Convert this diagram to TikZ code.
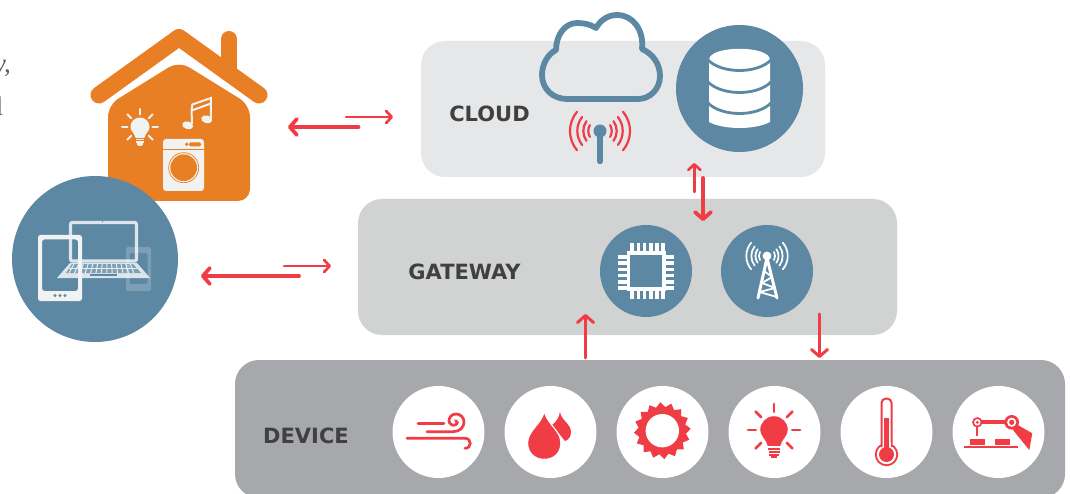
\documentclass[tikz,border=0pt]{standalone}
\usepackage{fontspec}
\setsansfont{DejaVu Sans}
\setmainfont{Liberation Serif}
\usetikzlibrary{arrows.meta,shapes.geometric}
\definecolor{arrowred}{HTML}{F03C45}
\definecolor{steel}{HTML}{5C88A3}
\definecolor{houseorange}{HTML}{E97F24}
\definecolor{paper}{HTML}{F1F2F2}
\definecolor{cloudgrey}{HTML}{E6E7E9}
\definecolor{gatewaygrey}{HTML}{D1D3D2}
\definecolor{devicegrey}{HTML}{A7A8AB}
\definecolor{lblgrey}{HTML}{404040}
\tikzset{
	panelbox/.style={rectangle,rounded corners=24pt,inner sep=0pt},
	iconbg/.style={circle,inner sep=0pt,minimum size=92pt},
	lbl/.style={font=\sffamily\bfseries\fontsize{21}{21}\selectfont,text=lblgrey},
	thickarrow/.style={arrowred,line width=3.8pt,line cap=round,-{Straight Barb[round,length=7pt,width=16pt]}},
	thinarrow/.style={arrowred,line width=2.7pt,line cap=round,-{Straight Barb[round,length=5.5pt,width=12pt]}},
	bulbicon/.pic={
		\fill (-9.5,0) arc[start angle=180,end angle=360,radius=9.5]
			.. controls (9.5,4) and (5,7) .. (4.3,11) -- (-4.3,11) .. controls (-5,7) and (-9.5,4) .. (-9.5,0) -- cycle;
		\foreach \a in {0,-45,-90,-135,180,45,135}
			\draw (\a:12.5) -- (\a:18);
		\foreach \s/\w in {12.8/4.2,15/3.8,17.2/3.2}
			\fill (-\w,\s-.7) rectangle (\w,\s+.7);
		\fill (-2,18.2) rectangle (2,19.4);
	},
	wavepair/.pic={
		\foreach \r/\h in {11.7/30,16.7/36,22.7/38,30/40}{
			\draw (-\h:\r) arc[start angle=-\h,end angle=\h,radius=\r];
			\draw (180-\h:\r) arc[start angle=180-\h,end angle=180+\h,radius=\r];
		}
	},
}
\begin{document}
\begin{tikzpicture}[x=1pt,y=-1pt]
	\useasboundingbox (0,0) rectangle (1070,494);
	% cut-off words at the left edge
	\node[anchor=base east,inner sep=0pt,text=lblgrey!85,font=\itshape\fontsize{27}{27}\selectfont] (wordw) at (11,73) {w,};
	\node[anchor=base east,inner sep=0pt,text=lblgrey!85,font=\fontsize{27}{27}\selectfont] (wordl) at (3.5,116) {l};

	% panels
	\node[panelbox,fill=cloudgrey,minimum width=404pt,minimum height=136pt] (cloudpanel) at (623,109) {};
	\node[panelbox,fill=gatewaygrey,minimum width=539pt,minimum height=136pt] (gatewaypanel) at (627.5,267) {};
	\node[panelbox,fill=devicegrey,minimum width=830pt,minimum height=138pt] (devicepanel) at (650,429) {};
	\node[lbl] (cloudlbl) at (489.5,114) {CLOUD};
	\node[lbl] (gatewaylbl) at (464.5,272) {GATEWAY};
	\node[lbl] (devicelbl) at (306,436) {DEVICE};

	% house
	\fill[houseorange,rounded corners=12pt] (108,201) -- (108,105) -- (179,61) -- (250,105) -- (250,201) -- cycle;
	\draw[houseorange,line width=16pt,line cap=round] (229,39) -- (229,72);
	\draw[houseorange,line width=17pt,line cap=round,line join=round] (99,95) -- (179,37.5) -- (259,95);
	\pic[paper,line width=2pt,line cap=round] at (140,127) {bulbicon};
	% note
	\fill[paper,rotate around={-15:(187.7,125.3)}] (187.7,125.3) ellipse[x radius=5.6,y radius=3.9];
	\fill[paper,rotate around={-15:(206.7,119.3)}] (206.7,119.3) ellipse[x radius=5.6,y radius=3.9];
	\draw[paper,line width=2pt] (192,124) .. controls (192,117) and (191,111) .. (192.3,104.5) -- (210.9,98) -- (210.9,119);
	\draw[paper,line width=2pt] (191.7,110.5) -- (210.9,103.5);
	% washer
	\fill[paper,rounded corners=3pt] (163,139) rectangle (204,191);
	\draw[houseorange,line width=.5pt] (163,149) -- (204,149);
	\fill[houseorange] (186.7,144.3) circle (1.9);
	\fill[houseorange,rounded corners=1.5pt] (189,142.3) rectangle (201,146.4);
	\draw[houseorange,line width=.7pt] (183.7,167.7) circle (15);
	\fill[houseorange] (183.7,167.7) circle (13.3);

	% devices circle
	\node[circle,fill=steel,inner sep=0pt,minimum size=166pt] (usercircle) at (95,259) {};
	\fill[white!78!steel] (70,263) -- (137,263) -- (150,278) -- (57,278) -- cycle;
	\fill[steel!80!white] (72,264) -- (133,264) -- (141,273) -- (66,273) -- cycle;
	\foreach \i in {0,...,12}
		\draw[white!85!steel,line width=1pt] ({74+\i*4.7},264) -- ({69+\i*5.4},273);
	\draw[white!85!steel,line width=1pt] (69,268.5) -- (137,268.5);
	\draw[steel,line width=2.2pt] (90,275) -- (117,275);
	\draw[white!78!steel,line width=3.2pt,rounded corners=2pt] (70.5,222.5) rectangle (136.5,261);
	\fill[steel] (102.5,221.5) circle (.7);
	\fill[white,opacity=.2,even odd rule,rounded corners=2pt] (126,247) rectangle (151,291) (129.5,253) rectangle (147.5,284);
	\fill[paper,even odd rule,rounded corners=2.5pt] (38,235) rectangle (82,301) (42,239.5) rectangle (78,291);
	\foreach \x in {55,60,65}
		\fill[steel] (\x,295.5) circle (1.7);

	% cloud with antenna
	\draw[steel,line width=5.8pt,line join=round] (567,99) -- (638,99) .. controls (650,99) and (660,89) .. (660,76)
		.. controls (660,64) and (653,54) .. (642,49) .. controls (644,30) and (633,15) .. (617,15)
		.. controls (607,15) and (600,21) .. (596,28) .. controls (590,24) and (583,23) .. (577,23)
		.. controls (565,23) and (556,35) .. (556,50) .. controls (548,54) and (542,64) .. (542,75)
		.. controls (542,89) and (553,99) .. (567,99) -- cycle;
	\pic[arrowred,line width=2.2pt,line cap=round] at (600,131) {wavepair};
	\draw[steel,line width=5.4pt,line cap=round] (600,133) -- (600,161.5);
	\fill[steel] (600,131) circle (6.5);

	% database
	\node[circle,fill=steel,inner sep=0pt,minimum size=127pt] (dbcircle) at (739.5,88.5) {};
	\fill[white] (709,60) .. controls (709,45) and (770,45) .. (770,60) -- (770,122) .. controls (755,130) and (724,130) .. (709,122) -- cycle;
	\foreach \h in {60,82,103}
		\draw[steel,line width=2.8pt] (708,\h) .. controls (722,{\h+14}) and (757,{\h+14}) .. (771,\h);

	% chip
	\node[iconbg,fill=steel] (chipcircle) at (646,271) {};
	\draw[white,line width=3.4pt] (628.2,253.2) rectangle (663.8,288.8);
	\foreach \i in {0,...,5}{
		\fill[white] ({630.4+\i*6.2},243) rectangle ({634+\i*6.2},252);
		\fill[white] ({630.4+\i*6.2},290) rectangle ({634+\i*6.2},299);
		\fill[white] (618,{255.2+\i*6.2}) rectangle (627,{258.8+\i*6.2});
		\fill[white] (665,{255.2+\i*6.2}) rectangle (674,{258.8+\i*6.2});
	}

	% tower
	\node[iconbg,fill=steel] (towercircle) at (767,271) {};
	\pic[white,scale=.69,line width=1.7pt,line cap=round] at (767,256) {wavepair};
	\fill[white] (767,256) circle (4.4);
	\draw[white,line width=3pt,line cap=round,line join=round] (758,298) -- (767,258) -- (777,298);
	\draw[white,line width=1.8pt,line join=round] (764,271) -- (772,277) -- (762,283) -- (775,288) -- (759.5,292) -- (777,297);

	% device icons
	\foreach \n/\cx in {wind/438.5,drop/550.5,sun/662.5,bulb/774.5,thermo/886.5,robot/998.5}
		\node[iconbg,fill=white] (\n circle) at (\cx,432) {};
	% wind
	\begin{scope}[arrowred,line width=2.7pt,line cap=round]
		\draw (418,423.7) -- (444,423.7);
		\draw (427,431.7) -- (453,431.7) .. controls (460,431.7) and (464,427) .. (464,422)
			.. controls (464,417) and (460,414) .. (456,414) .. controls (451,414) and (449,418) .. (449,421)
			.. controls (449,424) and (453,426) .. (455,425) .. controls (458,424) and (458,421) .. (455.5,420.5);
		\draw (407,438.3) -- (465,438.3) .. controls (472,438.3) and (472,448.3) .. (465,448.3);
	\end{scope}
	% drops
	\fill[arrowred] (560,412) .. controls (561,420) and (571,424) .. (571,432) .. controls (571,437) and (568,440) .. (565,441) -- (552,425) .. controls (556,422) and (559,418) .. (560,412) -- cycle;
	\draw[arrowred,fill=arrowred,preaction={draw=white,line width=3pt}] (544.3,414.5) .. controls (541,425) and (528.5,432) .. (528.5,443)
		.. controls (528.5,452) and (535,458.5) .. (544.3,458.5) .. controls (553.6,458.5) and (560,452) .. (560,443)
		.. controls (560,432) and (547.6,425) .. (544.3,414.5) -- cycle;
	% sun
	\node[star,star points=16,star point ratio=1.2,fill=arrowred,inner sep=0pt,minimum size=57pt,shape border rotate=4] (sunrays) at (662.3,430.7) {};
	\node[circle,fill=white,inner sep=0pt,minimum size=33.4pt] (suncore) at (662.3,430.7) {};
	% bulb
	\pic[arrowred,scale=1.45,line width=2.6pt,line cap=round] at (774,430) {bulbicon};
	% thermometer
	\fill[arrowred] (886.5,454.5) circle (11.7);
	\fill[white] (886.5,454.5) circle (9.7);
	\draw[arrowred,fill=white,line width=2pt,rounded corners=4.5pt] (881.5,447) -- (881.5,398.5) -- (891.5,398.5) -- (891.5,447);
	\fill[white] (882.5,442) rectangle (890.5,450);
	\fill[arrowred] (886.5,454.5) circle (7.5);
	\fill[arrowred] (884.3,418) rectangle (888.8,452);
	% robot
	\draw[arrowred,line width=1.8pt] (964.3,447.3) -- (1017.7,447.3);
	\fill[arrowred] (970,439) rectangle (985,445);
	\fill[arrowred] (995,439) rectangle (1010,445);
	\draw[arrowred,line width=1.8pt] (977.3,424) -- (977.3,436);
	\fill[arrowred] (1016,424) -- (1032.3,433.3) -- (1029.3,450) -- (1013,430) -- cycle;
	\draw[arrowred,line width=3.8pt] (977.3,422.3) -- (1011.7,422.3);
	\fill[arrowred] (977.3,422.3) circle (5.2);
	\fill[white] (977.3,422.3) circle (3.2);
	\fill[arrowred] (977.3,422.3) circle (1.6);
	\fill[arrowred] (1011.7,422.3) circle (7.3);
	\fill[white] (1011.7,422.3) circle (4.6);
	\fill[arrowred] (1011.7,422.3) circle (2.6);

	% arrows
	\coordinate (houseout) at (358.5,127);
	\coordinate (housein) at (288,127);
	\coordinate (cloudin) at (393,117);
	\coordinate (cloudout) at (346,117);
	\coordinate (userout) at (299,276);
	\coordinate (userin) at (201,276);
	\coordinate (gatewayin) at (331,266);
	\coordinate (gatewayout) at (284,266);
	\coordinate (dbout) at (703,178);
	\coordinate (chipin) at (703,221);
	\coordinate (chipout) at (694.3,192);
	\coordinate (dbin) at (694.3,163);
	\coordinate (sensorout) at (585.5,358);
	\coordinate (sensorin) at (585.5,314);
	\coordinate (towerout) at (819.5,314);
	\coordinate (robotin) at (819.5,358);
	\draw[thickarrow] (houseout) -- (housein);
	\draw[thinarrow] (cloudout) -- (cloudin);
	\draw[thickarrow] (userout) -- (userin);
	\draw[thinarrow] (gatewayout) -- (gatewayin);
	\draw[thickarrow] (dbout) -- (chipin);
	\draw[thinarrow] (chipout) -- (dbin);
	\draw[thickarrow,line width=3pt] (sensorout) -- (sensorin);
	\draw[thickarrow,line width=3pt] (towerout) -- (robotin);
\end{tikzpicture}
\end{document}
